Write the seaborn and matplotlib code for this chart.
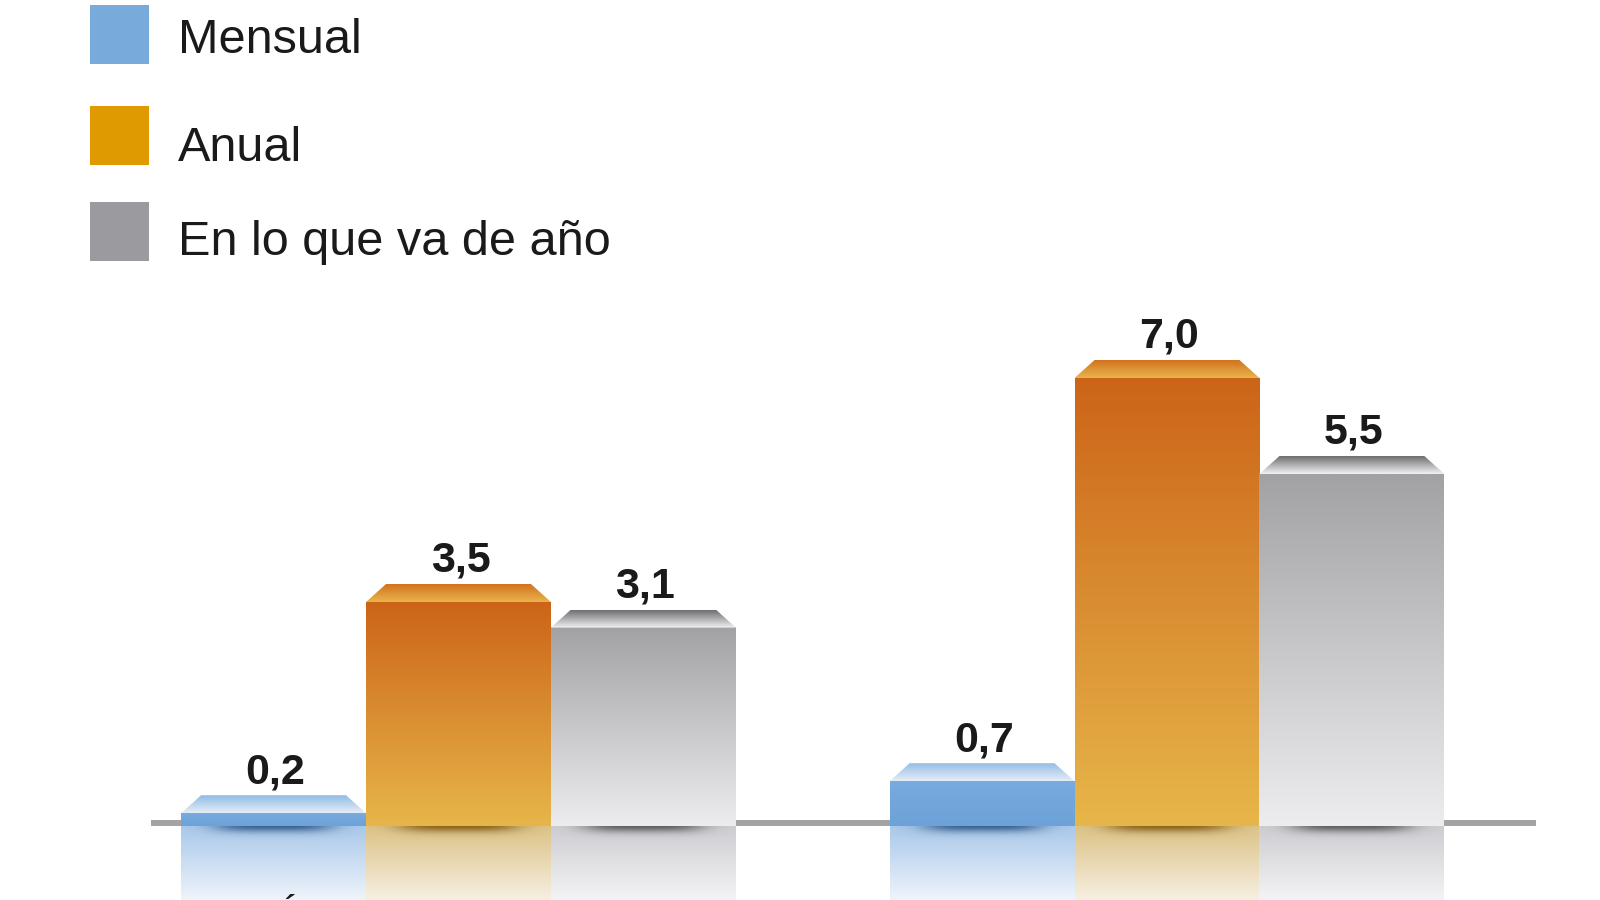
import numpy as np
import pandas as pd
import matplotlib
matplotlib.use("Agg")
import matplotlib.pyplot as plt
import matplotlib.colors as mcolors
from matplotlib.patches import Polygon, Rectangle
import seaborn as sns

# --- data ---
categories = ["ÍNDICE GENERAL", "SUBYACENTE"]
series = ["Mensual", "Anual", "En lo que va de año"]
mensual = [0.2, 0.7]
anual = [3.5, 7.0]
en_lo_que_va = [3.1, 5.5]

# --- styling ---
legend_colors = ["#78aadc", "#de9a00", "#9b9b9f"]
face_top = ["#78abdf", "#cc6418", "#a2a2a4"]
face_bot = ["#6ca2d8", "#e7b64a", "#ededef"]
bevel_top = ["#8fbbe6", "#d2721e", "#6e6e70"]
bevel_bot = ["#e6edf6", "#e8b54c", "#f3f3f5"]
refl_top = ["#a9c8ea", "#dcc285", "#cdcdd1"]
refl_bot = ["#eef4fb", "#f6efe2", "#f4f4f6"]
shadow_col = ["#2a5585", "#80580f", "#505054"]

sns.set_theme(style="white")
plt.rcParams["font.family"] = ["Liberation Sans", "DejaVu Sans"]

df = pd.DataFrame({
    "cat": categories * 3,
    "serie": [s for s in series for _ in categories],
    "val": mensual + anual + en_lo_que_va,
})

fig = plt.figure(figsize=(16, 9), dpi=100)
ax = fig.add_axes([0, 0, 1, 1])

sns.barplot(data=df, x="cat", y="val", hue="serie", hue_order=series,
            palette=legend_colors, width=0.783, saturation=1, legend=False,
            ax=ax, zorder=2, linewidth=0)

# pixel mapping: group spacing 708.5 px, 64 px per unit, baseline at 826 px
xpx, ypx = 708.5, 64.0
x0 = -458.5 / xpx
ax.set_xlim(x0, x0 + 1600 / xpx)
ax.set_ylim(-(900 - 826) / ypx, 826 / ypx)
ax.axis("off")
ybot = ax.get_ylim()[0]


def vgrad(c_top, c_bot, n=256):
    a = np.array(mcolors.to_rgb(c_top))
    b = np.array(mcolors.to_rgb(c_bot))
    t = np.linspace(0, 1, n)[:, None]
    return (a * (1 - t) + b * t)[:, None, :]


# baseline
ax.plot([-0.434, 1.521], [0.04, 0.04], color="#a3a3a3", lw=4.3,
        solid_capstyle="butt", zorder=1)

inset = 20 / xpx
bh = 18 / ypx

for i, cont in enumerate(ax.containers):
    for bar in cont:
        x, w, h = bar.get_x(), bar.get_width(), bar.get_height()
        cx = x + w / 2
        # face
        ax.imshow(vgrad(face_top[i], face_bot[i]), extent=[x, x + w, 0, h],
                  aspect="auto", zorder=3, interpolation="bilinear")
        # bevel top
        poly = Polygon([(x, h), (x + w, h), (x + w - inset, h + bh), (x + inset, h + bh)],
                       closed=True, facecolor="none", edgecolor="none")
        ax.add_patch(poly)
        im = ax.imshow(vgrad(bevel_top[i], bevel_bot[i]), extent=[x, x + w, h, h + bh],
                       aspect="auto", zorder=3, interpolation="bilinear")
        im.set_clip_path(poly)
        # reflection
        ax.imshow(vgrad(refl_top[i], refl_bot[i]), extent=[x, x + w, ybot, 0],
                  aspect="auto", zorder=2, interpolation="bilinear")
        # soft shadow under the bar
        gx = np.linspace(-1, 1, 120)
        gy = np.linspace(0, 1, 40)
        GX, GY = np.meshgrid(gx, gy)
        alpha = np.exp(-(GX / 0.65) ** 4 - (GY / 0.35) ** 2) * 0.9
        rgba = np.zeros((40, 120, 4))
        rgba[..., :3] = mcolors.to_rgb(shadow_col[i])
        rgba[..., 3] = alpha
        ax.imshow(rgba, extent=[x, x + w, -0.3, 0], aspect="auto", zorder=2.6,
                  interpolation="bilinear")
        # value label
        ax.text(cx + 2 / xpx, h + bh + 12 / ypx, f"{h:.1f}".replace(".", ","),
                ha="center", va="baseline", fontsize=31, fontweight="bold",
                color="#1a1a1a", zorder=5)

# category labels (cut off at the bottom edge, as in the original)
for j, cat in enumerate(categories):
    ax.text(j, (826 - 931) / ypx, cat, ha="center", va="baseline", fontsize=30,
            color="#1a1a1a", zorder=5)

# legend
sq_tops = [5, 106, 202]
txt_base = [53, 161, 255]
for s, col, top, base in zip(series, legend_colors, sq_tops, txt_base):
    fig.patches.append(Rectangle((90 / 1600, 1 - (top + 59) / 900), 59 / 1600, 59 / 900,
                                 transform=fig.transFigure, facecolor=col,
                                 edgecolor="none"))
    fig.text(177.5 / 1600, 1 - base / 900, s, fontsize=35, color="#1a1a1a",
             va="baseline", ha="left")

fig.savefig("out.png", dpi=100)
